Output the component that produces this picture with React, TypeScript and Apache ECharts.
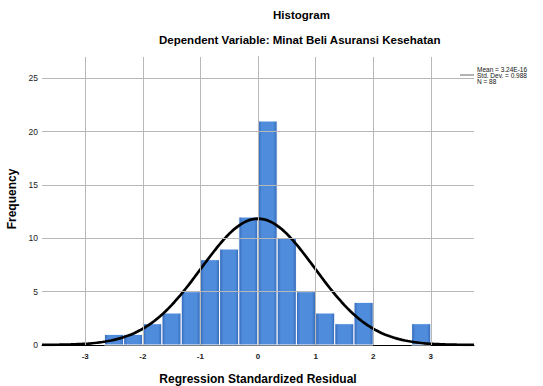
import React, { useEffect, useRef } from "react";
import * as echarts from "echarts";

// Histogram bins (edges in standardized residual units) and their frequencies
const binEdges = [-2.667, -2.333, -2, -1.667, -1.333, -1, -0.667, -0.333, 0, 0.333, 0.667, 1, 1.333, 1.667, 2, 2.333, 2.667, 3];
const counts = [1, 1, 2, 3, 5, 8, 9, 12, 21, 10, 5, 3, 2, 4, 0, 0, 2];

// Axis ticks / grid lines
const xTicks = [-3, -2, -1, 0, 1, 2, 3];
const yTicks = [5, 10, 15, 20, 25];

// Summary statistics (legend) used for the normal curve overlay
const MEAN = 3.24e-16;
const STD_DEV = 0.988;
const N = 88;
const BIN_WIDTH = 1 / 3;
const legendLines = ["Mean = 3.24E-16", "Std. Dev. = 0.988", "N = 88"];

const X_MIN = -3.75;
const X_MAX = 3.75;
const Y_MAX = 27;

const FONT = "'Liberation Sans', Arial, sans-serif";

export default function App() {
  const ref = useRef<HTMLDivElement>(null);

  useEffect(() => {
    if (!ref.current) return;
    const chart = echarts.init(ref.current, null, { renderer: "svg" });

    const histData = counts.map((c, i) => [binEdges[i], binEdges[i + 1], c]);

    const curve: number[][] = [];
    for (let k = 0; k <= 150; k++) {
      const x = X_MIN + ((X_MAX - X_MIN) * k) / 150;
      const z = (x - MEAN) / STD_DEV;
      const y = (N * BIN_WIDTH) / (STD_DEV * Math.sqrt(2 * Math.PI)) * Math.exp(-0.5 * z * z);
      curve.push([x, y]);
    }

    const barFill = new echarts.graphic.LinearGradient(0, 0, 1, 0, [
      { offset: 0, color: "#3468b8" },
      { offset: 0.2, color: "#4f8ddc" },
      { offset: 0.8, color: "#4f8ddc" },
      { offset: 1, color: "#3468b8" },
    ]);

    chart.setOption({
      animation: false,
      backgroundColor: "#ffffff",
      textStyle: { fontFamily: FONT },
      grid: { left: 42, right: 69, top: 57, bottom: 41, containLabel: false },
      xAxis: {
        type: "value",
        min: X_MIN,
        max: X_MAX,
        splitNumber: 8,
        axisLine: { show: true, lineStyle: { color: "#000", width: 1.2 } },
        axisTick: { show: false },
        splitLine: { show: false },
        axisLabel: {
          margin: 7,
          fontSize: 8,
          fontWeight: "bold",
          color: "#222",
          fontFamily: FONT,
          formatter: (v: number) => (xTicks.includes(v) ? String(v) : ""),
        },
      },
      yAxis: {
        type: "value",
        min: 0,
        max: Y_MAX,
        interval: 5,
        axisLine: { show: true, lineStyle: { color: "#333", width: 1 } },
        axisTick: { show: false },
        splitLine: { show: false },
        axisLabel: {
          margin: 4,
          fontSize: 8.5,
          color: "#222",
          fontFamily: FONT,
          formatter: (v: number) => (v % 5 === 0 ? String(v) : ""),
        },
      },
      series: [
        {
          type: "line",
          data: [[0, 0]],
          showSymbol: false,
          lineStyle: { width: 0, opacity: 0 },
          z: 1,
          markLine: {
            silent: true,
            symbol: "none",
            label: { show: false },
            lineStyle: { color: "#b8b8b8", width: 1, type: "solid" },
            data: [
              ...xTicks.map((v) => ({ xAxis: v })),
              ...yTicks.map((v) => ({ yAxis: v })),
            ],
          },
        },
        {
          type: "custom",
          z: 2,
          data: histData,
          encode: { x: [0, 1], y: 2 },
          renderItem: (params: any, api: any) => {
            const c = api.value(2);
            if (!c) return null;
            const p0 = api.coord([api.value(0), c]);
            const p1 = api.coord([api.value(1), 0]);
            return {
              type: "rect",
              shape: { x: p0[0], y: p0[1], width: p1[0] - p0[0], height: p1[1] - p0[1] },
              style: { fill: barFill, stroke: "#ffffff", lineWidth: 1 },
            };
          },
        },
        {
          type: "line",
          z: 3,
          data: curve,
          showSymbol: false,
          smooth: false,
          lineStyle: { color: "#000", width: 2.7 },
        },
      ],
      graphic: [
        {
          type: "text",
          left: 273,
          top: 9,
          style: { text: "Histogram", font: `bold 11.5px ${FONT}`, fill: "#000" },
        },
        {
          type: "text",
          left: 159,
          top: 34,
          style: {
            text: "Dependent Variable: Minat Beli Asuransi Kesehatan",
            font: `bold 11.5px ${FONT}`,
            fill: "#000",
          },
        },
        {
          type: "text",
          x: 12,
          y: 199,
          rotation: Math.PI / 2,
          style: {
            text: "Frequency",
            font: `bold 12px ${FONT}`,
            fill: "#000",
            align: "center",
            verticalAlign: "middle",
          },
        },
        {
          type: "text",
          x: 258,
          y: 379,
          style: {
            text: "Regression Standardized Residual",
            font: `bold 12px ${FONT}`,
            fill: "#000",
            align: "center",
            verticalAlign: "middle",
          },
        },
        {
          type: "line",
          shape: { x1: 460, y1: 75, x2: 474, y2: 75 },
          style: { stroke: "#666", lineWidth: 1 },
        },
        ...legendLines.map((t, i) => ({
          type: "text",
          x: 477,
          y: 69 + i * 6,
          style: { text: t, font: `6.5px ${FONT}`, fill: "#111", verticalAlign: "middle" },
        })),
      ],
    });

    return () => chart.dispose();
  }, []);

  return (
    <div
      ref={ref}
      style={{ position: "fixed", left: 0, top: 0, width: 543, height: 386, background: "#fff" }}
    />
  );
}
